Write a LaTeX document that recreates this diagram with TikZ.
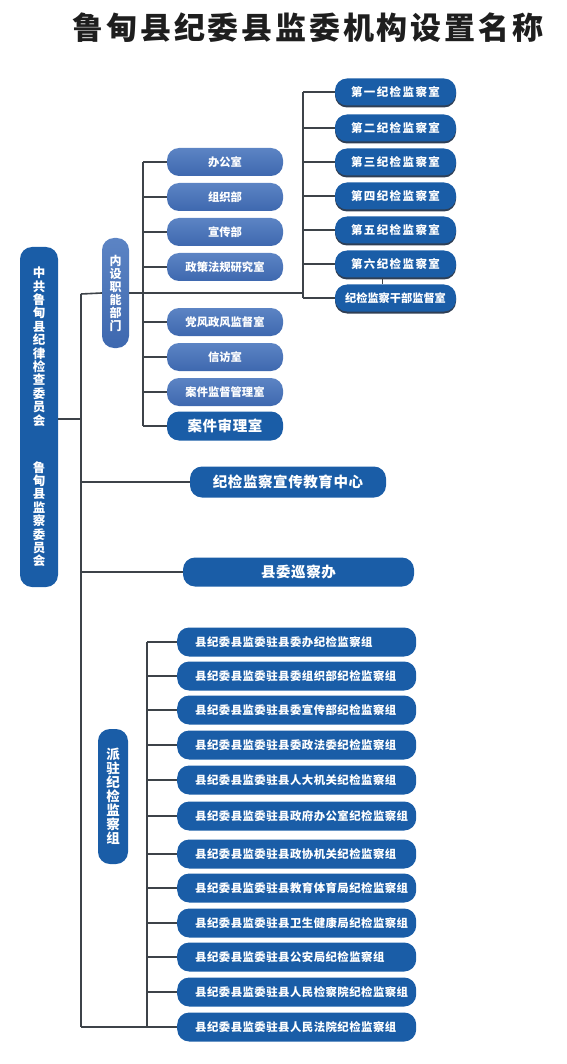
\documentclass[tikz,border=0pt]{standalone}
\usepackage{fontspec}
\setmainfont{Noto Sans CJK SC}

\begin{document}
\begin{tikzpicture}[x=1pt,y=-1pt,
  blu/.style={fill=bluScuro, rounded corners=12pt, inner sep=0pt, text=white, align=center},
  azz/.style={top color=bluChiaroA, bottom color=bluChiaroB, rounded corners=12pt, inner sep=0pt, text=white, align=center},
  ombra/.style={preaction={fill=ombraBlu, transform canvas={yshift=-2pt}}},
  linea/.style={draw=lineaGrigia, line width=1.6pt},
  reparto/.style={azz, minimum width=116pt, minimum height=28pt, font=\bfseries\fontsize{11.3}{13}\selectfont},
  stanza/.style={blu, ombra, minimum width=121pt, minimum height=27pt, font=\bfseries\fontsize{11.5}{13}\selectfont\addfontfeatures{LetterSpace=12}},
  gruppo/.style={blu, anchor=west, inner xsep=18pt, text width=203pt, align=left, minimum height=29pt, font=\bfseries\fontsize{11.4}{13}\selectfont\addfontfeatures{LetterSpace=4}},
  colonna/.style={font=\bfseries\fontsize{12.5}{13.4}\selectfont}]

% Colori
\definecolor{bluScuro}{HTML}{1A5DA7}
\definecolor{bluChiaroA}{HTML}{5C84C4}
\definecolor{bluChiaroB}{HTML}{3E68AF}
\definecolor{ombraBlu}{HTML}{2F3F55}
\definecolor{lineaGrigia}{HTML}{3D4349}
\definecolor{titoloNero}{HTML}{1E1E1E}

\useasboundingbox (0,0) rectangle (566,1064);

% Titolo
\node[text=titoloNero, font=\bfseries\fontsize{31}{34}\selectfont\addfontfeatures{LetterSpace=9}] (titolo) at (308,28) {鲁甸县纪委县监委机构设置名称};

% Riquadro principale
\node[blu, colonna, minimum width=38pt, minimum height=340pt] (main) at (39,417)
  {中\\共\\鲁\\甸\\县\\纪\\律\\检\\查\\委\\员\\会\\[33.6pt]鲁\\甸\\县\\监\\察\\委\\员\\会};

% Tronco
\coordinate (tA) at (81,294);
\coordinate (tM) at (81,419);
\coordinate (tB) at (81,1027);
\draw[linea] (tA) -- (tB);
\draw[linea] (main.east |- tM) -- (tM);

% Reparti interni
\node[azz, colonna, font=\bfseries\fontsize{12}{13}\selectfont, minimum width=27pt, minimum height=110pt] (interno) at (115.5,293) {内\\设\\职\\能\\部\\门};
\draw[linea] (tA) -- (interno.west);

\node[reparto] (d1) at (225,162) {办公室};
\node[reparto] (d2) at (225,197) {组织部};
\node[reparto] (d3) at (225,232) {宣传部};
\node[reparto] (d4) at (225,267) {政策法规研究室};
\node[reparto] (d5) at (225,322) {党风政风监督室};
\node[reparto] (d6) at (225,357) {信访室};
\node[reparto] (d7) at (225,392) {案件监督管理室};
\node[blu, minimum width=116pt, minimum height=29pt, font=\bfseries\fontsize{14.5}{16}\selectfont\addfontfeatures{LetterSpace=4}] (d8) at (225,426) {案件审理室};

\coordinate (sA) at (143,162);
\coordinate (sB) at (143,426);
\draw[linea] (sA) -- (sB);
\draw[linea] (d1.west -| sA) -- (d1.west);
\draw[linea] (d2.west -| sA) -- (d2.west);
\draw[linea] (d3.west -| sA) -- (d3.west);
\draw[linea] (d4.west -| sA) -- (d4.west);
\draw[linea] (d5.west -| sA) -- (d5.west);
\draw[linea] (d6.west -| sA) -- (d6.west);
\draw[linea] (d7.west -| sA) -- (d7.west);
\draw[linea] (d8.west -| sA) -- (d8.west);

% Stanze di controllo
\node[stanza] (r1) at (395.5,92) {第一纪检监察室};
\node[stanza] (r2) at (395.5,128) {第二纪检监察室};
\node[stanza] (r3) at (395.5,162) {第三纪检监察室};
\node[stanza] (r4) at (395.5,196) {第四纪检监察室};
\node[stanza] (r5) at (395.5,230) {第五纪检监察室};
\node[stanza] (r6) at (395.5,264) {第六纪检监察室};
\node[stanza, font=\bfseries\fontsize{11.2}{13}\selectfont] (r7) at (395.5,298) {纪检监察干部监督室};

\coordinate (rA) at (303,92);
\coordinate (rB) at (303,298);
\draw[linea] (interno.east) -- (interno.east -| rA);
\draw[linea] (rA) -- (rB);
\draw[linea] (r1.west -| rA) -- (r1.west);
\draw[linea] (r2.west -| rA) -- (r2.west);
\draw[linea] (r3.west -| rA) -- (r3.west);
\draw[linea] (r4.west -| rA) -- (r4.west);
\draw[linea] (r5.west -| rA) -- (r5.west);
\draw[linea] (r6.west -| rA) -- (r6.west);
\draw[linea] (r7.west -| rA) -- (r7.west);
\draw[linea, line width=1pt] ([xshift=-13.5pt]r6.south) -- ([xshift=-13.5pt]r7.north);

% Centro e ufficio
\node[blu, minimum width=196pt, minimum height=31pt, font=\bfseries\fontsize{14.5}{16}\selectfont\addfontfeatures{LetterSpace=4}] (centro) at (288,482) {纪检监察宣传教育中心};
\node[blu, minimum width=231pt, minimum height=29pt, font=\bfseries\fontsize{14.5}{16}\selectfont\addfontfeatures{LetterSpace=4}] (ispezione) at (298.5,572) {县委巡察办};
\draw[linea] (centro.west -| tA) -- (centro.west);
\draw[linea] (ispezione.west -| tA) -- (ispezione.west);

% Gruppi distaccati
\node[blu, font=\bfseries\fontsize{13.5}{14}\selectfont, minimum width=30pt, minimum height=135pt] (pz) at (113,796.5) {派\\驻\\纪\\检\\监\\察\\组};

\node[gruppo] (g1) at (177,642) {县纪委县监委驻县委办纪检监察组};
\node[gruppo] (g2) at (177,676) {县纪委县监委驻县委组织部纪检监察组};
\node[gruppo] (g3) at (177,710) {县纪委县监委驻县委宣传部纪检监察组};
\node[gruppo] (g4) at (177,745) {县纪委县监委驻县委政法委纪检监察组};
\node[gruppo] (g5) at (177,780) {县纪委县监委驻县人大机关纪检监察组};
\node[gruppo] (g6) at (177,816) {县纪委县监委驻县政府办公室纪检监察组};
\node[gruppo] (g7) at (177,854) {县纪委县监委驻县政协机关纪检监察组};
\node[gruppo] (g8) at (177,888) {县纪委县监委驻县教育体育局纪检监察组};
\node[gruppo] (g9) at (177,923) {县纪委县监委驻县卫生健康局纪检监察组};
\node[gruppo] (g10) at (177,957) {县纪委县监委驻县公安局纪检监察组};
\node[gruppo] (g11) at (177,992) {县纪委县监委驻县人民检察院纪检监察组};
\node[gruppo] (g12) at (177,1027) {县纪委县监委驻县人民法院纪检监察组};

\coordinate (gA) at (147,642);
\draw[linea] (gA) -- (gA |- g12.west);
\draw[linea] (g1.west -| gA) -- (g1.west);
\draw[linea] (g2.west -| gA) -- (g2.west);
\draw[linea] (g3.west -| gA) -- (g3.west);
\draw[linea] (g4.west -| gA) -- (g4.west);
\draw[linea] (g5.west -| gA) -- (g5.west);
\draw[linea] (g6.west -| gA) -- (g6.west);
\draw[linea] (g7.west -| gA) -- (g7.west);
\draw[linea] (g8.west -| gA) -- (g8.west);
\draw[linea] (g9.west -| gA) -- (g9.west);
\draw[linea] (g10.west -| gA) -- (g10.west);
\draw[linea] (g11.west -| gA) -- (g11.west);
\draw[linea] (tB) -- (g12.west);

\end{tikzpicture}
\end{document}
